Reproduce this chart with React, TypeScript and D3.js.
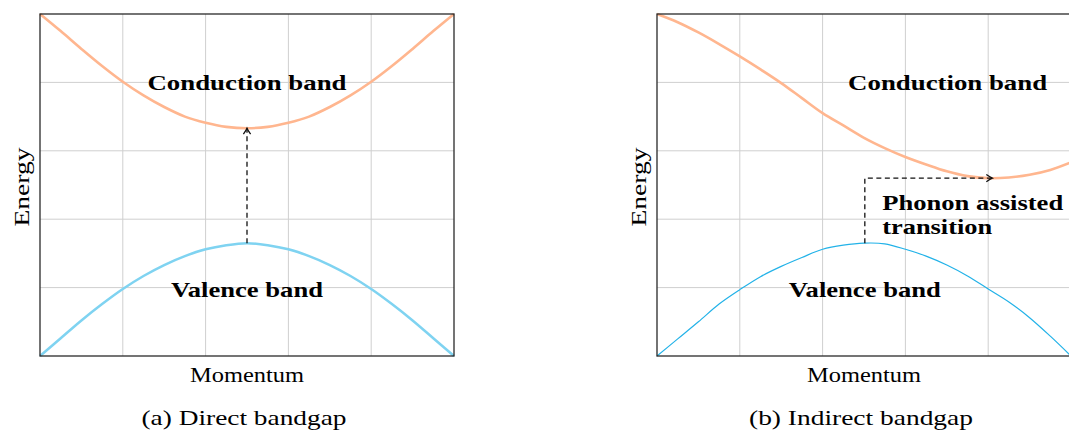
import React from "react";
import * as d3 from "d3";

// ---------- data ----------
const xGrid = [0, 1, 2, 3, 4, 5];
const yGrid = [0, 1, 2, 3, 4, 5];

const momentumSteps = [0, 0.25, 0.5, 0.75, 1, 1.25, 1.5, 1.75, 2, 2.25, 2.5, 2.75, 3, 3.25, 3.5, 3.75, 4, 4.25, 4.5, 4.75, 5];

// (a) Direct bandgap
const directConduction = [5.0, 4.75, 4.49, 4.24, 4.01, 3.81, 3.64, 3.5, 3.41, 3.35, 3.33, 3.35, 3.41, 3.5, 3.64, 3.81, 4.01, 4.24, 4.49, 4.75, 5.0];
const directValence = [0, 0.26, 0.52, 0.76, 0.98, 1.17, 1.33, 1.46, 1.56, 1.62, 1.65, 1.62, 1.56, 1.46, 1.33, 1.17, 0.98, 0.76, 0.52, 0.26, 0];

// (b) Indirect bandgap
const indirectConduction = [5.0, 4.88, 4.73, 4.56, 4.38, 4.19, 3.99, 3.77, 3.55, 3.37, 3.19, 3.04, 2.91, 2.8, 2.7, 2.63, 2.6, 2.61, 2.65, 2.72, 2.83];
const indirectValence = [0, 0.25, 0.5, 0.76, 0.97, 1.16, 1.31, 1.44, 1.56, 1.62, 1.65, 1.64, 1.56, 1.46, 1.33, 1.17, 0.98, 0.79, 0.56, 0.29, 0];

// transitions: [x, y] pairs in data units
const directTransition = [[2.5, 1.65], [2.5, 3.33]];
const indirectTransition = [[2.51, 1.65], [2.51, 2.6], [4.05, 2.6]];

const labels = {
  conduction: "Conduction band",
  valence: "Valence band",
  xLabel: "Momentum",
  yLabel: "Energy",
  phonon1: "Phonon assisted",
  phonon2: "transition",
  capA: "(a) Direct bandgap",
  capB: "(b) Indirect bandgap",
};

// ---------- styling ----------
const ORANGE = "#ffb68f";
const BLUE_LIGHT = "#7fd3f1";
const BLUE = "#22b2e8";
const GRID = "#cfcfcf";
const AXIS = "#2a2a2a";
const FONT = "Liberation Serif, Times New Roman, Times, serif";

type PanelProps = {
  left: number;
  conduction: number[];
  valence: number[];
  valenceColor: string;
  valenceWidth: number;
  transition: number[][];
  children?: (x: d3.ScaleLinear<number, number>, y: d3.ScaleLinear<number, number>) => React.ReactNode;
  caption: string;
  capLen: number;
};

const TOP = 14;
const BOTTOM = 356;
const PW = 414;

function arrowHead(x0: number, y0: number, x1: number, y1: number) {
  const ang = Math.atan2(y1 - y0, x1 - x0);
  const L = 6, W = 3.6;
  const bx = x1 - L * Math.cos(ang), by = y1 - L * Math.sin(ang);
  const nx = -Math.sin(ang), ny = Math.cos(ang);
  const p1 = [bx + nx * W, by + ny * W];
  const p2 = [bx - nx * W, by - ny * W];
  const c1 = [x1 - 2 * Math.cos(ang) + nx * 0.8, y1 - 2 * Math.sin(ang) + ny * 0.8];
  const c2 = [x1 - 2 * Math.cos(ang) - nx * 0.8, y1 - 2 * Math.sin(ang) - ny * 0.8];
  return `M${p1[0]},${p1[1]} Q${c1[0]},${c1[1]} ${x1},${y1} Q${c2[0]},${c2[1]} ${p2[0]},${p2[1]}`;
}

function Panel(props: PanelProps) {
  const { left, conduction, valence, valenceColor, valenceWidth, transition, children, caption, capLen } = props;
  const x = d3.scaleLinear().domain([0, 5]).range([left, left + PW]);
  const y = d3.scaleLinear().domain([0, 5]).range([BOTTOM, TOP]);
  const line = d3
    .line<number>()
    .x((_, i) => x(momentumSteps[i]))
    .y((d) => y(d))
    .curve(d3.curveCatmullRom.alpha(0.5));
  const tpath = d3
    .line<number[]>()
    .x((d) => x(d[0]))
    .y((d) => y(d[1]))(transition) as string;
  const n = transition.length;
  const a = transition[n - 2], b = transition[n - 1];
  const cx = (x(0) + x(5)) / 2;
  return (
    <g>
      {xGrid.slice(1, -1).map((v) => (
        <line key={"gx" + v} x1={x(v)} x2={x(v)} y1={TOP} y2={BOTTOM} stroke={GRID} strokeWidth={1} />
      ))}
      {yGrid.slice(1, -1).map((v) => (
        <line key={"gy" + v} x1={x(0)} x2={x(5)} y1={y(v)} y2={y(v)} stroke={GRID} strokeWidth={1} />
      ))}
      <path d={line(conduction) as string} fill="none" stroke={ORANGE} strokeWidth={2.6} />
      <path d={line(valence) as string} fill="none" stroke={valenceColor} strokeWidth={valenceWidth} />
      <path d={tpath} fill="none" stroke="#111" strokeWidth={1.3} strokeDasharray="5,3.5" />
      <path d={arrowHead(x(a[0]), y(a[1]), x(b[0]), y(b[1]))} fill="none" stroke="#111" strokeWidth={1.3} />
      <rect x={x(0)} y={TOP} width={PW} height={BOTTOM - TOP} fill="none" stroke={AXIS} strokeWidth={1.3} />
      {children && children(x, y)}
      <text x={cx} y={382} textAnchor="middle" fontFamily={FONT} fontSize={21} textLength={114} lengthAdjust="spacingAndGlyphs">
        {labels.xLabel}
      </text>
      <text
        transform={`translate(${left - 11},${(TOP + BOTTOM) / 2 + 2}) rotate(-90)`}
        textAnchor="middle"
        fontFamily={FONT}
        fontSize={21}
        textLength={79}
        lengthAdjust="spacingAndGlyphs"
      >
        {labels.yLabel}
      </text>
      <text x={cx - 3} y={425} textAnchor="middle" fontFamily={FONT} fontSize={21} textLength={capLen} lengthAdjust="spacingAndGlyphs">
        {caption}
      </text>
    </g>
  );
}

export default function App() {
  const boldText = (xx: number, yy: number, s: string, len: number, anchor: string = "middle") => (
    <text x={xx} y={yy} textAnchor={anchor} fontFamily={FONT} fontWeight="bold" fontSize={22} textLength={len} lengthAdjust="spacingAndGlyphs">
      {s}
    </text>
  );
  return (
    <svg width={1069} height={430} style={{ position: "absolute", left: 0, top: 0, background: "#fff" }}>
      <Panel
        left={40}
        conduction={directConduction}
        valence={directValence}
        valenceColor={BLUE_LIGHT}
        valenceWidth={2.5}
        transition={directTransition}
        caption={labels.capA}
        capLen={205}
      >
        {(x, y) => (
          <g>
            {boldText(x(2.5), y(3.89), labels.conduction, 199)}
            {boldText(x(2.5), y(0.86), labels.valence, 152)}
          </g>
        )}
      </Panel>
      <Panel
        left={657}
        conduction={indirectConduction}
        valence={indirectValence}
        valenceColor={BLUE}
        valenceWidth={1.2}
        transition={indirectTransition}
        caption={labels.capB}
        capLen={224}
      >
        {(x, y) => (
          <g>
            {boldText(x(3.51), y(3.89), labels.conduction, 199)}
            {boldText(x(2.51), y(0.86), labels.valence, 152)}
            {boldText(x(2.72), y(2.13), labels.phonon1, 181, "start")}
            {boldText(x(2.72), y(1.78), labels.phonon2, 110, "start")}
          </g>
        )}
      </Panel>
    </svg>
  );
}
